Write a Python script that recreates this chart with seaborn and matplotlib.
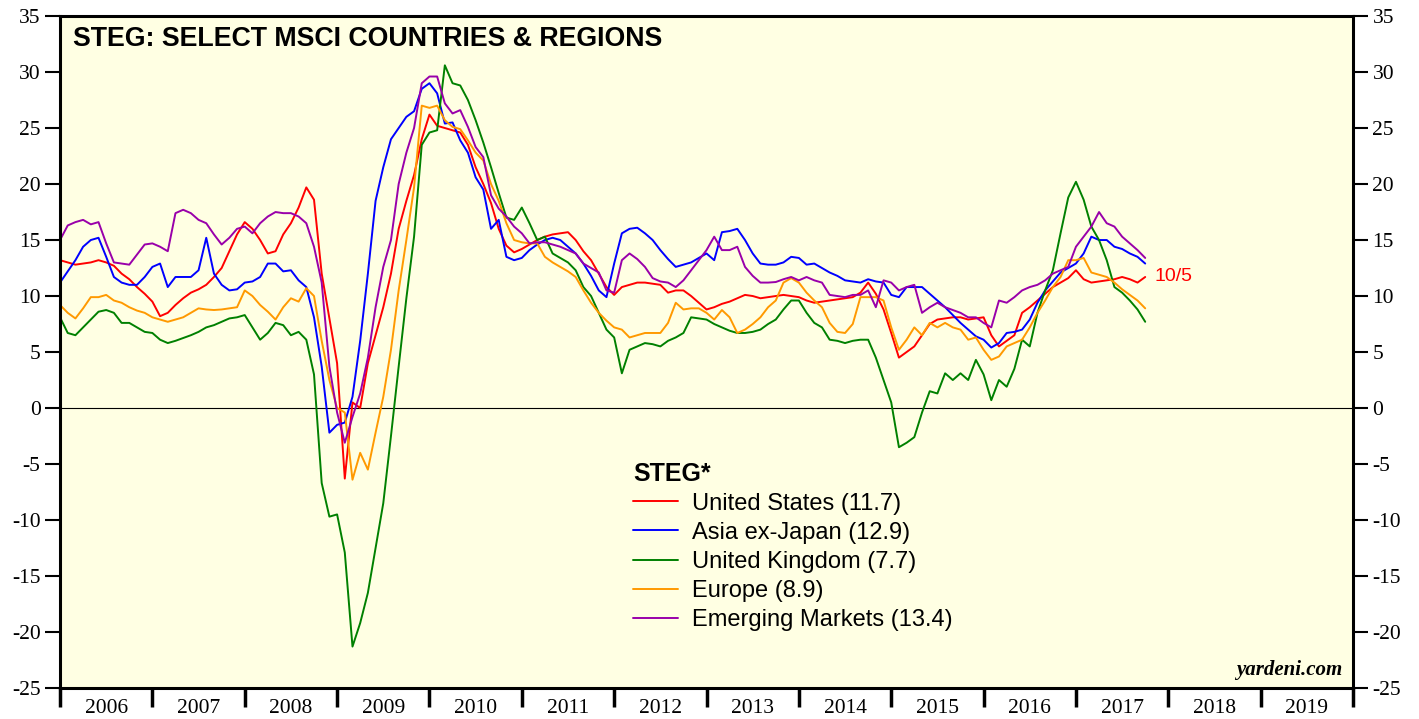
import numpy as np
import pandas as pd
import seaborn as sns
from matplotlib import pyplot as plt
from matplotlib.lines import Line2D

# STEG monthly readings, Jan 2006 .. Oct 2017
start_year = 2006

us = [13.2, 13.0, 12.8, 12.9, 13.0, 13.2, 13.0, 12.7, 12.0, 11.5, 10.8, 10.2,
      9.5, 8.2, 8.5, 9.2, 9.8, 10.3, 10.6, 11.0, 11.7, 12.5, 14.0, 15.5,
      16.6, 16.0, 15.0, 13.8, 14.0, 15.5, 16.5, 17.9, 19.7, 18.6, 12.0, 8.0,
      4.0, -6.3, 0.5, 0.0, 4.0, 6.5, 9.0, 12.0, 16.0, 18.5, 20.8, 24.0,
      26.2, 25.2, 25.0, 24.8, 24.6, 23.5, 21.5, 20.0, 18.3, 16.0, 14.5, 13.9,
      14.2, 14.6, 15.0, 15.3, 15.5, 15.6, 15.7, 15.0, 14.0, 13.2, 12.0, 10.8,
      10.1, 10.8, 11.0, 11.2, 11.2, 11.1, 11.0, 10.3, 10.5, 10.5, 10.0, 9.4,
      8.8, 9.0, 9.3, 9.5, 9.8, 10.1, 10.0, 9.8, 9.9, 10.0, 10.1, 10.0,
      9.9, 9.6, 9.4, 9.5, 9.6, 9.7, 9.8, 9.9, 10.3, 11.2, 10.2, 8.8,
      6.7, 4.5, 5.0, 5.5, 6.5, 7.5, 7.9, 8.0, 8.1, 8.1, 7.9, 8.0,
      8.1, 6.5, 5.5, 6.0, 6.5, 8.5, 9.0, 9.6, 10.2, 10.8, 11.2, 11.6,
      12.3, 11.5, 11.2, 11.3, 11.4, 11.5, 11.7, 11.5, 11.2, 11.7]

asia_ex_japan = [11.2, 12.2, 13.2, 14.4, 15.0, 15.2, 13.5, 11.7, 11.2, 11.0, 11.0, 11.7,
                 12.6, 12.9, 10.8, 11.7, 11.7, 11.7, 12.3, 15.2, 12.0, 11.0, 10.5, 10.6,
                 11.2, 11.3, 11.7, 12.9, 12.9, 12.2, 12.3, 11.4, 10.8, 8.1, 3.7, -2.2,
                 -1.5, -1.3, 1.0, 6.0, 12.0, 18.5, 21.5, 24.0, 25.0, 26.0, 26.5, 28.5,
                 29.0, 28.1, 25.4, 25.5, 23.9, 22.8, 20.6, 19.5, 16.0, 16.8, 13.5, 13.2,
                 13.4, 14.1, 14.6, 15.0, 15.2, 15.0, 14.4, 13.8, 12.9, 11.8, 10.5, 9.9,
                 12.9, 15.6, 16.0, 16.1, 15.6, 15.0, 14.1, 13.3, 12.6, 12.8, 13.0, 13.4,
                 13.8, 13.2, 15.7, 15.8, 16.0, 15.0, 13.8, 12.9, 12.8, 12.8, 13.0, 13.5,
                 13.4, 12.8, 12.9, 12.5, 12.1, 11.8, 11.4, 11.3, 11.2, 11.5, 11.3, 11.2,
                 10.1, 9.9, 10.8, 10.8, 10.8, 10.2, 9.6, 9.0, 8.3, 7.6, 7.0, 6.4,
                 6.1, 5.4, 5.8, 6.7, 6.8, 7.0, 7.9, 9.4, 10.5, 11.3, 12.1, 12.5,
                 12.9, 13.8, 15.3, 15.0, 15.0, 14.4, 14.2, 13.8, 13.5, 12.9]

united_kingdom = [8.1, 6.7, 6.5, 7.2, 7.9, 8.6, 8.75, 8.5, 7.6, 7.6, 7.2, 6.8,
                  6.7, 6.1, 5.8, 6.0, 6.25, 6.5, 6.8, 7.2, 7.4, 7.7, 8.0, 8.1,
                  8.3, 7.2, 6.1, 6.7, 7.6, 7.4, 6.5, 6.8, 6.1, 3.0, -6.7, -9.7,
                  -9.5, -12.9, -21.3, -19.2, -16.5, -12.5, -8.5, -2.5, 3.7, 9.8, 15.3, 23.5,
                  24.6, 24.8, 30.6, 29.0, 28.8, 27.5, 25.7, 23.7, 21.5, 19.2, 17.0, 16.8,
                  17.9, 16.5, 15.0, 15.3, 13.8, 13.4, 13.0, 12.3, 10.8, 10.0, 8.5, 7.0,
                  6.3, 3.1, 5.2, 5.5, 5.8, 5.7, 5.5, 6.0, 6.3, 6.7, 8.1, 8.0,
                  7.9, 7.5, 7.2, 6.9, 6.7, 6.7, 6.8, 7.0, 7.5, 7.9, 8.8, 9.6,
                  9.6, 8.5, 7.6, 7.2, 6.1, 6.0, 5.8, 6.0, 6.1, 6.1, 4.5, 2.5,
                  0.5, -3.5, -3.1, -2.6, -0.4, 1.5, 1.3, 3.1, 2.5, 3.1, 2.5, 4.3,
                  3.0, 0.7, 2.5, 1.9, 3.5, 6.1, 5.5, 8.5, 10.5, 12.3, 15.6, 18.8,
                  20.2, 18.6, 16.2, 15.0, 13.2, 10.8, 10.3, 9.6, 8.8, 7.7]

europe = [9.2, 8.5, 8.0, 8.9, 9.9, 9.9, 10.1, 9.6, 9.4, 9.0, 8.7, 8.5,
          8.1, 7.9, 7.7, 7.9, 8.1, 8.5, 8.9, 8.8, 8.75, 8.8, 8.9, 9.0,
          10.5, 10.0, 9.2, 8.6, 7.9, 9.0, 9.8, 9.5, 10.7, 10.0, 6.0, 2.5,
          0.0, -0.4, -6.4, -4.0, -5.5, -2.2, 1.0, 5.2, 10.5, 15.0, 19.7, 27.0,
          26.8, 27.0, 25.7, 25.1, 24.9, 23.9, 22.8, 22.1, 20.0, 18.5, 16.5, 15.0,
          14.8, 14.7, 14.7, 13.5, 13.0, 12.6, 12.2, 11.7, 10.5, 9.4, 8.5, 7.8,
          7.2, 7.0, 6.3, 6.5, 6.7, 6.7, 6.7, 7.6, 9.4, 8.8, 8.9, 8.9,
          8.5, 7.9, 8.75, 8.1, 6.7, 7.0, 7.5, 8.1, 9.0, 9.6, 11.2, 11.6,
          11.2, 10.3, 9.6, 9.0, 7.6, 6.8, 6.7, 7.5, 9.9, 9.9, 9.9, 9.6,
          7.2, 5.2, 6.1, 7.2, 6.5, 7.6, 7.2, 7.6, 7.2, 7.0, 6.1, 6.3,
          5.2, 4.3, 4.6, 5.5, 5.8, 6.1, 7.2, 8.5, 9.6, 10.8, 11.7, 13.2,
          13.2, 13.4, 12.1, 11.9, 11.7, 11.2, 10.6, 10.1, 9.6, 8.9]

emerging_markets = [15.0, 16.3, 16.6, 16.8, 16.4, 16.6, 14.7, 13.0, 12.9, 12.8, 13.7, 14.6,
                    14.7, 14.4, 14.0, 17.4, 17.7, 17.4, 16.8, 16.5, 15.5, 14.6, 15.2, 16.0,
                    16.2, 15.6, 16.5, 17.1, 17.5, 17.4, 17.4, 17.1, 16.5, 14.4, 11.2, 3.7,
                    -0.4, -3.1, -0.8, 1.3, 4.5, 9.0, 12.6, 15.0, 20.0, 22.8, 25.0, 29.0,
                    29.6, 29.6, 27.2, 26.3, 26.6, 25.1, 23.3, 22.4, 19.0, 17.8, 17.1, 16.2,
                    15.6, 14.7, 14.8, 14.8, 14.6, 14.4, 14.1, 13.8, 12.9, 12.5, 12.1, 10.5,
                    10.3, 13.2, 13.8, 13.3, 12.6, 11.6, 11.3, 11.2, 10.8, 11.4, 12.3, 13.2,
                    14.1, 15.3, 14.1, 14.1, 14.4, 12.6, 11.8, 11.2, 11.2, 11.25, 11.5, 11.7,
                    11.4, 11.7, 11.4, 11.2, 10.1, 10.0, 9.9, 10.1, 10.1, 10.5, 9.0, 11.4,
                    11.2, 10.5, 10.8, 11.0, 8.5, 9.0, 9.4, 9.0, 8.75, 8.5, 8.1, 8.1,
                    7.6, 7.2, 9.6, 9.4, 9.9, 10.5, 10.8, 11.0, 11.4, 12.0, 12.3, 12.6,
                    14.4, 15.3, 16.2, 17.5, 16.5, 16.2, 15.3, 14.7, 14.1, 13.4]

names = ["United States (11.7)", "Asia ex-Japan (12.9)", "United Kingdom (7.7)",
         "Europe (8.9)", "Emerging Markets (13.4)"]
colors = ["#FF0000", "#0000FF", "#008000", "#FF9900", "#9900AA"]
series = [us, asia_ex_japan, united_kingdom, europe, emerging_markets]

years = list(range(2006, 2020))
last_label = "10/5"
last_value = us[-1]

frames = []
for name, vals in zip(names, series):
    months = start_year + np.arange(len(vals)) / 12
    frames.append(pd.DataFrame({"date": months, "steg": vals, "region": name}))
df = pd.concat(frames, ignore_index=True)

sns.set_style("ticks")
plt.rcParams["font.family"] = ["Liberation Sans", "DejaVu Sans"]
plt.rcParams["axes.unicode_minus"] = False
for key in ["text.color", "axes.labelcolor", "xtick.color", "ytick.color"]:
    plt.rcParams[key] = "black"

fig = plt.figure(figsize=(14.19, 7.19), dpi=100)
ax = fig.add_axes([0.0423, 0.0431, 0.9112, 0.9346])
ax.set_facecolor("#FFFFE3")

sns.lineplot(data=df, x="date", y="steg", hue="region", palette=colors,
             linewidth=1.4, ax=ax, legend=False)
ax.axhline(0, color="black", lw=0.8, zorder=1)

ax.set_xlim(years[0], years[-1] + 1)
ax.set_ylim(-25, 35)
ax.set_xlabel("")
ax.set_ylabel("")

# y axis on both sides
ax.set_yticks(range(-25, 36, 5))
ax.tick_params(axis="y", which="both", left=True, right=True, labelleft=True, labelright=True,
               direction="out", length=11, width=1.5, labelsize=15.5, pad=3)
for lab in ax.get_yticklabels():
    lab.set_fontfamily("Liberation Serif")

# x axis: ticks at year boundaries, labels in between
ax.set_xticks([y for y in years] + [years[-1] + 1])
ax.set_xticklabels([])
ax.set_xticks([y + 0.5 for y in years], minor=True)
ax.set_xticklabels([str(y) for y in years], minor=True, fontfamily="Liberation Serif")
ax.tick_params(axis="x", which="major", direction="out", length=14, width=2.5)
ax.tick_params(axis="x", which="minor", length=0, labelsize=15.5, pad=8)

for sp in ax.spines.values():
    sp.set_visible(True)
    sp.set_linewidth(2.2)
    sp.set_color("black")

ax.text(0.01, 0.985, "STEG: SELECT MSCI COUNTRIES & REGIONS", transform=ax.transAxes,
        fontsize=19.3, fontweight="bold", va="top", ha="left")

ax.text(years[-1] - 2 + 0.85, last_value, last_label, color="#FF0000", fontsize=14,
        va="center", ha="left")

ax.text(0.9915, 0.012, "yardeni.com", transform=ax.transAxes, fontsize=15,
        fontfamily="Liberation Serif", fontweight="bold", fontstyle="italic",
        ha="right", va="bottom")

handles = [Line2D([0], [0], color=c, lw=1.4) for c in colors]
leg = ax.legend(handles, names, title="STEG*", loc="upper left", bbox_to_anchor=(0.4432, 0.337),
                frameon=False, fontsize=17, title_fontproperties={"weight": "bold", "size": 18},
                handlelength=1.9, handletextpad=0.6, labelspacing=0.3, borderpad=0,
                borderaxespad=0, alignment="left")

fig.savefig("out.png", dpi=100)
